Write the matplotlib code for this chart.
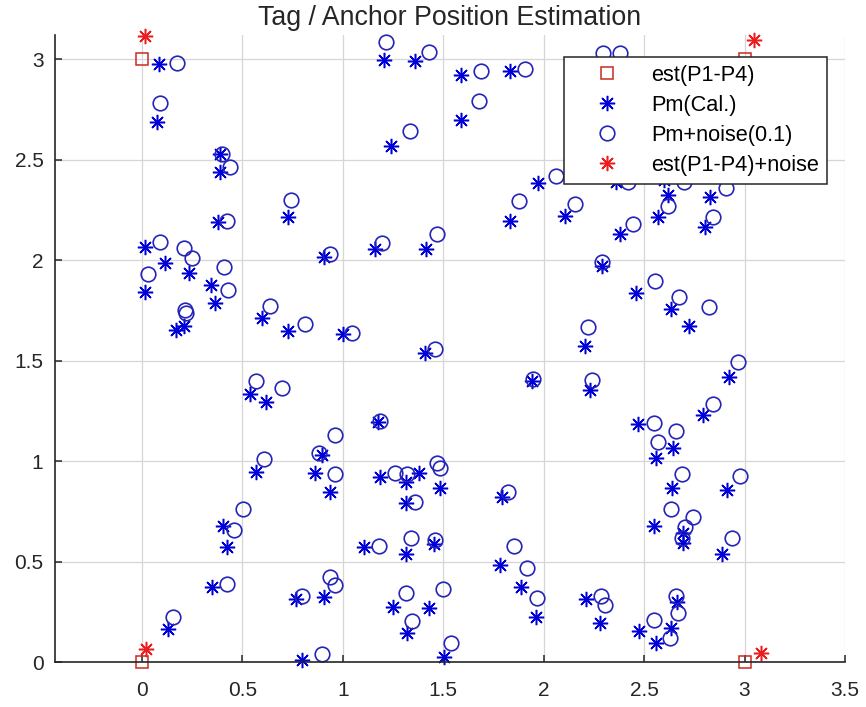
import matplotlib
matplotlib.use('Agg')
import matplotlib.pyplot as plt

plt.rcParams['font.family'] = ['Liberation Sans', 'DejaVu Sans']

# Positions des ancres (estimées) et avec bruit
anchor_x = [0, 0, 3, 3]
anchor_y = [0, 3, 0, 3]
anchor_noise_x = [0.022, 0.017, 3.08, 3.049]
anchor_noise_y = [0.065, 3.115, 0.043, 3.095]

# Points Pm calculés
pm_x = [0.087, 0.077, 0.39, 0.387, 0.725, 0.377, 1.203, 1.36, 1.59, 1.833,
        1.588, 1.241, 1.974, 1.833, 2.107, 1.415, 1.162, 2.36, 2.60, 2.621,
        2.571, 2.828, 2.803, 2.38, 0.014, 0.117, 0.233, 0.014, 0.344, 0.366,
        0.172, 0.211, 0.598, 0.725, 0.908, 1.0, 0.54, 0.616, 0.896, 2.29,
        1.407, 2.206, 1.941, 2.231, 1.175, 2.46, 2.633, 2.724, 2.925, 2.795,
        2.469, 2.643, 2.56, 0.57, 0.86, 0.934, 0.404, 0.424, 0.349, 0.13,
        0.769, 0.905, 0.797, 1.187, 1.316, 1.377, 1.485, 1.316, 1.795, 1.104,
        1.316, 1.452, 1.784, 1.887, 1.961, 2.211, 2.278, 1.25, 1.322, 1.43,
        1.505, 2.638, 2.911, 2.551, 2.696, 2.696, 2.886, 2.663, 2.477, 2.634,
        2.56]
pm_y = [2.975, 2.685, 2.526, 2.44, 2.212, 2.19, 2.998, 2.99, 2.92, 2.94,
        2.697, 2.569, 2.385, 2.196, 2.219, 2.055, 2.055, 2.39, 2.40, 2.323,
        2.215, 2.315, 2.166, 2.13, 2.066, 1.983, 1.937, 1.839, 1.876, 1.788,
        1.652, 1.673, 1.71, 1.647, 2.016, 1.63, 1.332, 1.294, 1.03, 1.97,
        1.539, 1.574, 1.40, 1.353, 1.195, 1.837, 1.755, 1.673, 1.419, 1.229,
        1.182, 1.063, 1.013, 0.947, 0.939, 0.847, 0.677, 0.574, 0.375, 0.163,
        0.312, 0.322, 0.01, 0.919, 0.897, 0.939, 0.864, 0.793, 0.823, 0.574,
        0.536, 0.586, 0.483, 0.375, 0.222, 0.312, 0.192, 0.275, 0.143, 0.267,
        0.023, 0.864, 0.856, 0.677, 0.64, 0.59, 0.537, 0.30, 0.156, 0.168,
        0.096]

# Points Pm + bruit (0.1)
noise_x = [0.175, 0.089, 0.40, 0.437, 0.744, 0.424, 1.216, 1.43, 1.688, 1.908,
           1.68, 1.336, 2.295, 2.38, 2.062, 1.875, 2.157, 1.469, 1.195, 2.42,
           2.70, 2.621, 2.908, 2.845, 2.447, 0.092, 0.211, 0.25, 0.031, 0.407,
           0.427, 0.216, 0.221, 0.636, 0.81, 0.934, 1.047, 0.57, 0.697, 0.963,
           0.88, 2.29, 1.46, 2.223, 1.949, 2.24, 1.183, 2.555, 2.676, 2.823,
           2.969, 2.845, 2.551, 2.659, 2.568, 0.606, 0.963, 0.503, 0.457, 0.424,
           0.155, 0.797, 0.934, 0.963, 0.896, 1.261, 1.322, 1.469, 1.485, 1.361,
           1.82, 1.178, 1.341, 1.457, 1.85, 1.916, 1.966, 2.286, 2.306, 1.316,
           1.344, 1.498, 1.538, 2.687, 2.978, 2.633, 2.742, 2.704, 2.687, 2.936,
           2.659, 2.671, 2.551, 2.629]
noise_y = [2.983, 2.78, 2.527, 2.464, 2.30, 2.195, 3.086, 3.033, 2.94, 2.949,
           2.79, 2.643, 3.028, 3.028, 2.42, 2.295, 2.279, 2.13, 2.083, 2.39,
           2.39, 2.27, 2.357, 2.215, 2.18, 2.088, 2.058, 2.008, 1.93, 1.964,
           1.851, 1.75, 1.738, 1.771, 1.68, 2.03, 1.637, 1.40, 1.365, 1.129,
           1.041, 1.99, 1.557, 1.665, 1.408, 1.403, 1.2, 1.897, 1.814, 1.768,
           1.494, 1.284, 1.19, 1.151, 1.096, 1.008, 0.935, 0.76, 0.657, 0.387,
           0.225, 0.328, 0.421, 0.383, 0.04, 0.939, 0.935, 0.992, 0.964, 0.795,
           0.847, 0.577, 0.615, 0.607, 0.577, 0.469, 0.317, 0.33, 0.284, 0.342,
           0.205, 0.362, 0.096, 0.935, 0.927, 0.76, 0.723, 0.67, 0.615, 0.615,
           0.328, 0.242, 0.209, 0.118]

x_ticks = [0, 0.5, 1, 1.5, 2, 2.5, 3, 3.5]
y_ticks = [0, 0.5, 1, 1.5, 2, 2.5, 3]

fig = plt.figure(figsize=(8.66, 7.07), dpi=100)
ax = fig.add_axes([54.5 / 866, 45 / 707, 790.5 / 866, 627 / 707])

asterisk = (8, 2, 0)

ax.plot(anchor_x, anchor_y, 's', color='#cc2a22', markerfacecolor='none',
        markersize=8, markeredgewidth=1.1, label='est(P1-P4)', clip_on=False)
ax.plot(pm_x, pm_y, marker=asterisk, linestyle='none', color='#0000d8',
        markersize=11, markeredgewidth=1.1, label='Pm(Cal.)', clip_on=False)
ax.plot(noise_x, noise_y, 'o', color='#2424b8', markerfacecolor='none',
        markersize=10.5, markeredgewidth=1.2, label='Pm+noise(0.1)', clip_on=False)
ax.plot(anchor_noise_x, anchor_noise_y, marker=asterisk, linestyle='none',
        color='#ee1c1c', markersize=11, markeredgewidth=1.1,
        label='est(P1-P4)+noise', clip_on=False)

ax.set_xlim(-0.435, 3.5)
ax.set_ylim(0, 3.12)
ax.set_xticks(x_ticks)
ax.set_xticklabels(['0', '0.5', '1', '1.5', '2', '2.5', '3', '3.5'])
ax.set_yticks(y_ticks)
ax.set_yticklabels(['0', '0.5', '1', '1.5', '2', '2.5', '3'])

ax.grid(True, color='#d6d6d6', linewidth=0.9)
ax.set_axisbelow(True)
for side in ['top', 'right']:
    ax.spines[side].set_visible(False)
for side in ['left', 'bottom']:
    ax.spines[side].set_color('#262626')
    ax.spines[side].set_linewidth(1.2)
ax.tick_params(direction='in', length=5, width=1.1, colors='#262626',
               labelsize=15)
ax.tick_params(axis='x', pad=14)
ax.tick_params(axis='y', pad=8)

ax.set_title('Tag / Anchor Position Estimation', fontsize=19.3, color='#262626',
             pad=7)

leg = ax.legend(loc='upper right', bbox_to_anchor=(0.977, 0.965),
                borderaxespad=0, fontsize=15.7, fancybox=False, framealpha=1,
                edgecolor='#262626', handlelength=3.2, handletextpad=0.45,
                borderpad=0.35, labelspacing=0.42)
leg.get_frame().set_linewidth(1.1)

fig.savefig('out.png', dpi=100)
